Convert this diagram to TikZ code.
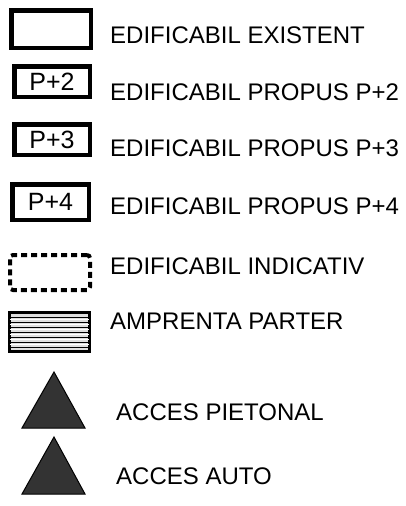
\documentclass[tikz,border=0pt]{standalone}
\usepackage{fontspec}
\setmainfont{Liberation Sans}
\begin{document}
\begin{tikzpicture}[x=1pt,y=-1pt,
  boxS/.style={draw=black,line width=4.5pt,inner sep=0pt,fill=white,font=\fontsize{25}{26}\selectfont},
  dashS/.style={draw=black,line width=4pt,dash pattern=on 6pt off 4pt,inner sep=0pt,rounded corners=3pt},
  hatchS/.style={draw=black,line width=3.5pt,inner sep=0pt,fill=gray!25},
  lab/.style={anchor=base west,inner sep=0pt,font=\fontsize{24}{26}\selectfont},
  tri/.style={draw=black,line width=1pt,fill=black!80}]
\useasboundingbox (0,0) rectangle (406,506);
\fill[white] (0,0) rectangle (406,506);
% boxes
\node[boxS,minimum width=79.5pt,minimum height=37.5pt] (b1) at (51,29) {};
\node[boxS,minimum width=75.5pt,minimum height=30.5pt] (b2) at (52,81.5) {P+2};
\node[boxS,minimum width=75.5pt,minimum height=30.5pt] (b3) at (52,139.5) {P+3};
\node[boxS,minimum width=76.5pt,minimum height=35.5pt] (b4) at (50.5,202) {P+4};
\node[dashS,minimum width=80pt,minimum height=35pt] (b5) at (50,272.5) {};
\node[hatchS,minimum width=80pt,minimum height=39pt] (b6) at (49.5,332) {};
\foreach \yy in {317,322,327,332,337,342,347}
  \draw[black,line width=0.9pt] ([xshift=2pt]b6.west |- 0,\yy) -- ([xshift=-2pt]b6.east |- 0,\yy);
\foreach \yy in {319.5,324.5,329.5,334.5,339.5,344.5}
  \draw[white,line width=1.6pt] ([xshift=2pt]b6.west |- 0,\yy) -- ([xshift=-2pt]b6.east |- 0,\yy);
% triangles
\coordinate (t1a) at (54,372); \coordinate (t1b) at (22,428); \coordinate (t1c) at (85,428);
\coordinate (t2a) at (54,437); \coordinate (t2b) at (22,494); \coordinate (t2c) at (85,494);
\draw[tri] (t1a) -- (t1b) -- (t1c) -- cycle;
\draw[tri] (t2a) -- (t2b) -- (t2c) -- cycle;
% labels
\node[lab] (l1) at (110,43) {EDIFICABIL EXISTENT};
\node[lab] (l2) at (110,100) {EDIFICABIL PROPUS P+2};
\node[lab] (l3) at (110,156) {EDIFICABIL PROPUS P+3};
\node[lab] (l4) at (110,214) {EDIFICABIL PROPUS P+4};
\node[lab] (l5) at (110,274) {EDIFICABIL INDICATIV};
\node[lab] (l6) at (110,329) {AMPRENTA PARTER};
\node[lab] (l7) at (116,420) {ACCES PIETONAL};
\node[lab] (l8) at (116,484) {ACCES AUTO};
\end{tikzpicture}
\end{document}
